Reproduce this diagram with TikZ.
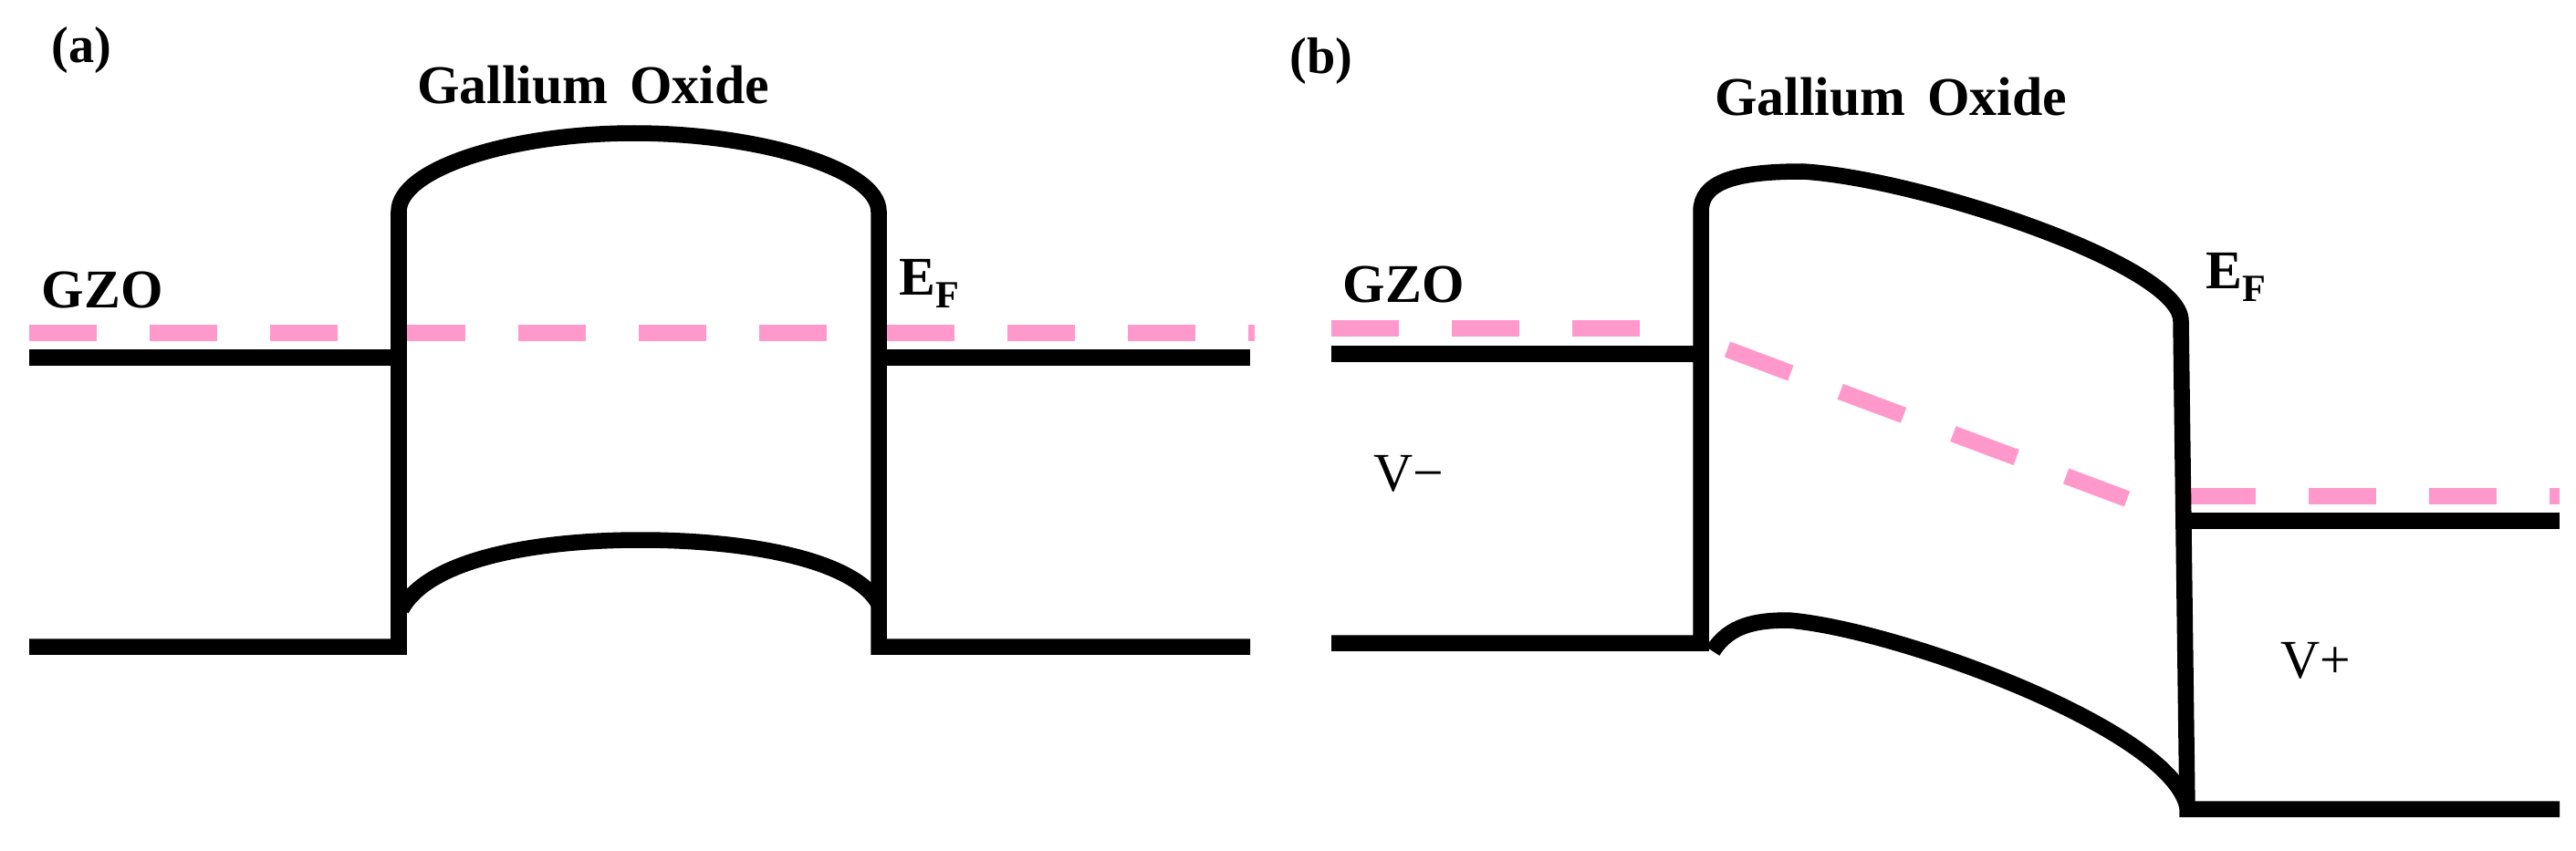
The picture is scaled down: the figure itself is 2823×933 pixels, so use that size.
\documentclass[tikz,border=0pt]{standalone}
\usepackage{fontspec}
\setmainfont{Liberation Serif}
\definecolor{efpink}{RGB}{255,153,204}
\begin{document}
\begin{tikzpicture}[x=0.01cm,y=-0.01cm,
  band/.style={line width=0.175cm, line join=miter, line cap=butt},
  fermi/.style={efpink, line width=0.18cm, line cap=butt, dash pattern=on 0.74cm off 0.58cm},
  lbl/.style={inner sep=0pt, anchor=base west, font=\fontsize{17}{20}\selectfont\bfseries},
  ttl/.style={inner sep=0pt, anchor=base, font=\fontsize{17}{20}\selectfont\bfseries},
  tag/.style={inner sep=0pt, anchor=base west, font=\fontsize{16}{19}\selectfont\bfseries},
  vlbl/.style={inner sep=0pt, anchor=base west, font=\fontsize{17}{20}\selectfont}]
\useasboundingbox (0,0) rectangle (2823,933);

% ---------------- panel (a) ----------------
\node[tag] (tagA) at (56,68) {(a)};
\node[ttl] (titleA) at (650,113) {Gallium\hspace{0.4em}Oxide};
\node[lbl] (gzoA) at (45,337) {GZO};
\node[lbl] (efA) at (985,323) {E\raisebox{-0.14cm}{\fontsize{12}{14}\selectfont F}};

% Fermi level
\draw[fermi] (32,365) -- (437,365);
\draw[fermi] (436,365) -- (930,365);
\draw[fermi] (972,365) -- (1375,365);

% barrier outline
\draw[band] (32,392) -- (437,392);
\draw[band] (963,392) -- (1370,392);
\draw[band] (32,709) -- (437,709) -- (437,232)
  .. controls (437,185) and (560,146) .. (695,146)
  .. controls (830,146) and (963,185) .. (963,232)
  -- (963,709) -- (1370,709);
\draw[band] (440,668) .. controls (470,612) and (590,592) .. (702,592)
  .. controls (814,592) and (935,612) .. (963,662);

% ---------------- panel (b) ----------------
\node[tag] (tagB) at (1413,80) {(b)};
\node[ttl] (titleB) at (2072,126) {Gallium\hspace{0.4em}Oxide};
\node[lbl] (gzoB) at (1471,331) {GZO};
\node[lbl] (efB) at (2417,316) {E\raisebox{-0.14cm}{\fontsize{12}{14}\selectfont F}};
\node[vlbl] (vminus) at (1505,538) {V−};
\node[vlbl] (vplus) at (2499,743) {V+};

% Fermi level
\draw[fermi] (1459,360) -- (1797,360);
\draw[fermi] (1893,383) -- (2331,547);
\draw[fermi] (2398,544) -- (2805,544);

% outline
\draw[band] (1459,388) -- (1864,388);
\draw[band] (2392,571) -- (2805,571);
\draw[band] (1459,705) -- (1864,705) -- (1864,232)
  .. controls (1864,200) and (1900,188) .. (1975,188)
  .. controls (2100,195) and (2390,290) .. (2390,352)
  -- (2397,887) -- (2805,887);
\draw[band] (1877,714) .. controls (1895,685) and (1925,680) .. (1960,680)
  .. controls (2080,690) and (2380,800) .. (2397,885);
\end{tikzpicture}
\end{document}
